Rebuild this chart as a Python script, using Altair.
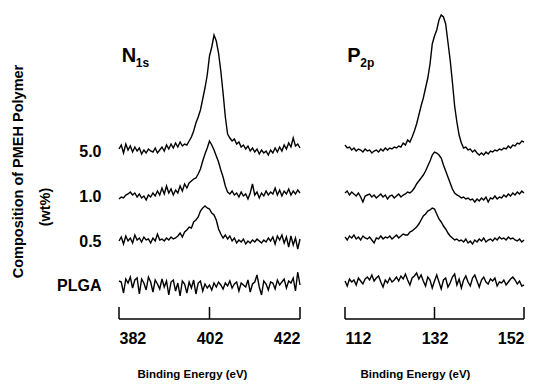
import altair as alt
import numpy as np
import pandas as pd

# ---------------- data ----------------
row_labels = ["5.0", "1.0", "0.5", "PLGA"]
n1s_range = [382, 422]
p2p_range = [112, 152]
energy_step = 0.5
n1s_ticks = [382, 402, 422]
p2p_ticks = [112, 132, 152]
# vertical stacking offsets of the spectra (arbitrary intensity units)
n1s_offsets = [168, 123, 78, 34]
p2p_offsets = [169, 125, 81, 36]
label_values = [168, 123, 78, 34]

# N1s spectra (intensity above each trace's own baseline), 382 -> 422 eV every 0.5 eV
n1s_50 = [2, 6, -2, 7, 1, 5, -1, 4, 0, 3,
          -3, 1, -2, 2, 0, -1, 3, -2, 1, 4,
          0, 6, 2, 7, 3, 8, 4, 9, 5, 7,
          6, 10, 14, 20, 28, 34, 41, 52, 63, 76,
          95, 104, 116, 110, 98, 80, 58, 34, 17, 13,
          10, 12, 7, 9, 4, 6, 2, 5, 0, 3,
          -1, 2, -3, 1, -2, 0, -4, 1, -2, 3,
          -1, 4, 0, 6, 2, 8, 4, 13, 5, 7,
          3]
n1s_10 = [-3, -1, -2, 1, 2, 4, 1, 3, -1, 2,
          -2, 0, -4, 1, -1, 3, 0, 5, 1, 8,
          2, 10, 3, 7, 1, 6, 3, 10, 5, 12,
          8, 13, 15, 17, 18, 22, 27, 35, 42, 48,
          55, 51, 46, 40, 34, 26, 19, 10, 4, 2,
          5, 1, 3, -1, 4, 0, 2, -3, 3, 12,
          1, 4, -2, 3, 0, 5, 1, 4, 2, 8,
          1, 6, 0, 5, 2, 7, 1, 5, 2, 6,
          3]
n1s_05 = [0, 4, -3, 5, 0, 3, -2, 6, 1, 3,
          -1, 4, 1, 2, -2, 3, 0, 7, 1, 2,
          0, 3, 1, 4, 2, 3, 5, 8, 4, 9,
          11, 14, 13, 19, 21, 24, 30, 33, 35, 33,
          32, 28, 26, 21, 12, 7, 3, 6, 2, 5,
          0, 3, -2, 1, -1, 2, -3, 0, -2, 1,
          -1, 2, 0, -2, 1, -1, 3, 0, 4, -3,
          5, 1, 6, -2, 4, -6, 5, -4, 3, -8,
          2]
n1s_plga = [4, 3, -8, 6, 2, 8, -3, 5, 7, -9,
            6, 2, -5, 8, 3, -7, 5, 1, -4, 6,
            -2, 4, -10, 3, 5, -6, 2, -11, 4, 1,
            -8, 3, -3, 5, -9, 2, 4, -6, 1, -3,
            0, -5, 2, -2, 3, 0, -4, 2, -1, 4,
            -3, 1, 3, -6, 2, 0, -2, 5, -7, 1,
            3, 10, -2, -10, 4, 1, -5, 3, 2, -4,
            5, 0, 3, 6, -3, 4, 2, 7, -6, 13,
            0]

# P2p spectra, 112 -> 152 eV every 0.5 eV
p2p_50 = [5, 2, 3, 0, 2, -1, 1, 0, -2, 1,
          -1, 0, -3, -1, 0, -2, 1, -1, 2, 0,
          2, 1, 3, 2, 4, 3, 7, 5, 10, 8,
          13, 19, 26, 35, 44, 52, 62, 72, 86, 106,
          114, 120, 130, 135, 133, 126, 108, 90, 68, 44,
          28, 15, 7, 2, 3, 0, 1, -2, 0, -3,
          -5, -3, -5, -2, -4, -1, -2, 0, -1, 1,
          0, 2, 1, 4, 2, 5, 4, 7, 6, 9,
          8]
p2p_10 = [1, 3, -1, 2, 0, -2, 1, -3, -8, -2,
          -1, 0, -3, -1, -4, -2, 0, -3, -1, -5,
          -2, -1, -4, -2, 0, -3, -1, 0, 2, 1,
          3, 6, 10, 13, 16, 19, 23, 28, 33, 39,
          42, 41, 39, 36, 29, 23, 17, 11, 5, 1,
          -1, -2, -4, -3, -5, -4, -6, -5, -8, -5,
          -7, -4, -6, -3, -8, -4, -5, -2, -5, -3,
          -4, -1, -3, 0, -2, 1, -1, 2, 0, 3,
          1]
p2p_05 = [1, -2, 2, 0, 3, -1, 1, -2, 2, 0,
          -1, 1, -2, -5, 0, -1, 2, -1, 1, 0,
          2, -1, 1, 3, 0, 2, 4, 3, 3, 6,
          7, 9, 11, 14, 18, 22, 24, 27, 28, 30,
          29, 24, 19, 16, 12, 9, 5, 2, 0, -2,
          -1, -3, -2, -4, -1, -5, -3, -6, -2, -4,
          -1, -3, 0, -4, -2, -1, -3, 0, -2, 1,
          -1, 0, -2, 1, -1, 0, -2, -3, -1, -4,
          -2]
p2p_plga = [2, -3, 4, 1, 3, -2, 5, 2, -1, 4,
            6, 3, 8, 2, 5, 7, 1, -4, 3, 0,
            5, 1, 3, 6, 2, 7, 4, 9, 3, -2,
            5, 7, 10, 4, 8, 2, -3, 6, 3, -5,
            2, 8, 1, -6, 3, 5, -4, 0, 6, 9,
            -2, 4, -5, 3, 7, 1, -3, 5, 8, 2,
            -4, 3, 6, 1, -1, 4, 2, 5, -3, 1,
            0, 3, -2, 1, 4, 6, 3, -1, 2, -3,
            -2]

y_title = "Composition of PMEH Polymer"
y_title_unit = "(wt%)"
x_title = "Binding Energy (eV)"

# ---------------- build ----------------
H = 311
TICK_LEN = 12
FONT = "Liberation Sans"


def build(rng, traces, offsets):
    rows = []
    for name, vals, off in zip(row_labels, traces, offsets):
        for i, v in enumerate(vals):
            rows.append({"energy": rng[0] + energy_step * i,
                         "intensity": v + off, "sample": name})
    return pd.DataFrame(rows)


n1s_df = build(n1s_range, [n1s_50, n1s_10, n1s_05, n1s_plga], n1s_offsets)
p2p_df = build(p2p_range, [p2p_50, p2p_10, p2p_05, p2p_plga], p2p_offsets)

label_expr = " : ".join(
    f"datum.value == {v} ? '{t}'" for v, t in zip(label_values, row_labels)
) + " : ''"


def panel(df, rng, ticks, width, show_y, main, sub, title_e, sub_dx, title_xpos):
    xscale = alt.Scale(domain=rng, nice=False, zero=False)
    yscale = alt.Scale(domain=[0, H], nice=False, zero=False)
    xaxis = alt.Axis(values=ticks, domain=False, ticks=False, tickSize=0,
                     grid=False, labelFontSize=16, labelFontWeight="bold",
                     labelColor="black", labelPadding=11, labelFont=FONT,
                     title=x_title, titleFontSize=11.5, titleFontWeight="bold",
                     titleColor="black", titleFont=FONT, titleX=title_xpos,
                     titleY=49, titleAlign="center", titleBaseline="top")
    if show_y:
        yaxis = alt.Axis(values=label_values, labelExpr=label_expr,
                         domain=False, ticks=False, tickSize=0, grid=False,
                         labelFontSize=16, labelFontWeight="bold",
                         labelColor="black", labelPadding=18, labelFont=FONT,
                         title=y_title, titleFontSize=14.5,
                         titleFontWeight="bold", titleColor="black",
                         titleFont=FONT, titlePadding=31, titleY=163)
    else:
        yaxis = None

    lines = alt.Chart(df).mark_line(color="black", strokeWidth=1.4).encode(
        x=alt.X("energy:Q", scale=xscale, axis=xaxis),
        y=alt.Y("intensity:Q", scale=yscale, axis=yaxis),
        detail="sample:N",
    )
    base_df = pd.DataFrame({"x": [rng[0]], "x2": [rng[1]], "y": [0]})
    baseline = alt.Chart(base_df).mark_rule(color="black", strokeWidth=1.5).encode(
        x=alt.X("x:Q", scale=xscale, axis=xaxis),
        x2="x2:Q",
        y=alt.Y("y:Q", scale=yscale, axis=yaxis),
    )
    tick_df = pd.DataFrame({"x": ticks, "y": [0] * len(ticks),
                            "y2": [TICK_LEN] * len(ticks)})
    tick_rules = alt.Chart(tick_df).mark_rule(color="black", strokeWidth=1.5).encode(
        x=alt.X("x:Q", scale=xscale, axis=xaxis),
        y=alt.Y("y:Q", scale=yscale, axis=yaxis),
        y2="y2:Q",
    )
    t_df = pd.DataFrame({"x": [title_e[0]], "y": [title_e[1]],
                         "main": [main], "sub": [sub]})
    main_txt = alt.Chart(t_df).mark_text(
        font=FONT, fontSize=20, fontWeight="bold", align="left",
        baseline="alphabetic", color="black").encode(
        x=alt.X("x:Q", scale=xscale, axis=xaxis),
        y=alt.Y("y:Q", scale=yscale, axis=yaxis),
        text="main:N")
    sub_txt = alt.Chart(t_df).mark_text(
        font=FONT, fontSize=12, fontWeight="bold", align="left",
        baseline="alphabetic", color="black", dx=sub_dx, dy=5).encode(
        x=alt.X("x:Q", scale=xscale, axis=xaxis),
        y=alt.Y("y:Q", scale=yscale, axis=yaxis),
        text="sub:N")
    layers = [lines, baseline, tick_rules, main_txt, sub_txt]
    if show_y:
        unit_df = pd.DataFrame({"t": [y_title_unit]})
        unit_txt = alt.Chart(unit_df).mark_text(
            font=FONT, fontSize=14.5, fontWeight="bold", angle=270,
            align="center", baseline="middle", color="black").encode(
            x=alt.value(-73), y=alt.value(199), text="t:N")
        layers.append(unit_txt)
    return alt.layer(*layers).properties(width=width, height=H)


left = panel(n1s_df, n1s_range, n1s_ticks, 181, True, "N", "1s",
             (382.6, 257), 14, 73)
right = panel(p2p_df, p2p_range, p2p_ticks, 179, False, "P", "2p",
              (112.5, 257), 13, 70)

chart = alt.hconcat(left, right, spacing=45, bounds="flush").properties(
    padding={"left": 2, "top": 0, "right": 0, "bottom": 0}
).configure(font=FONT).configure_view(stroke=None)

chart.save("out.html", embed_options={"renderer": "svg", "actions": False})
